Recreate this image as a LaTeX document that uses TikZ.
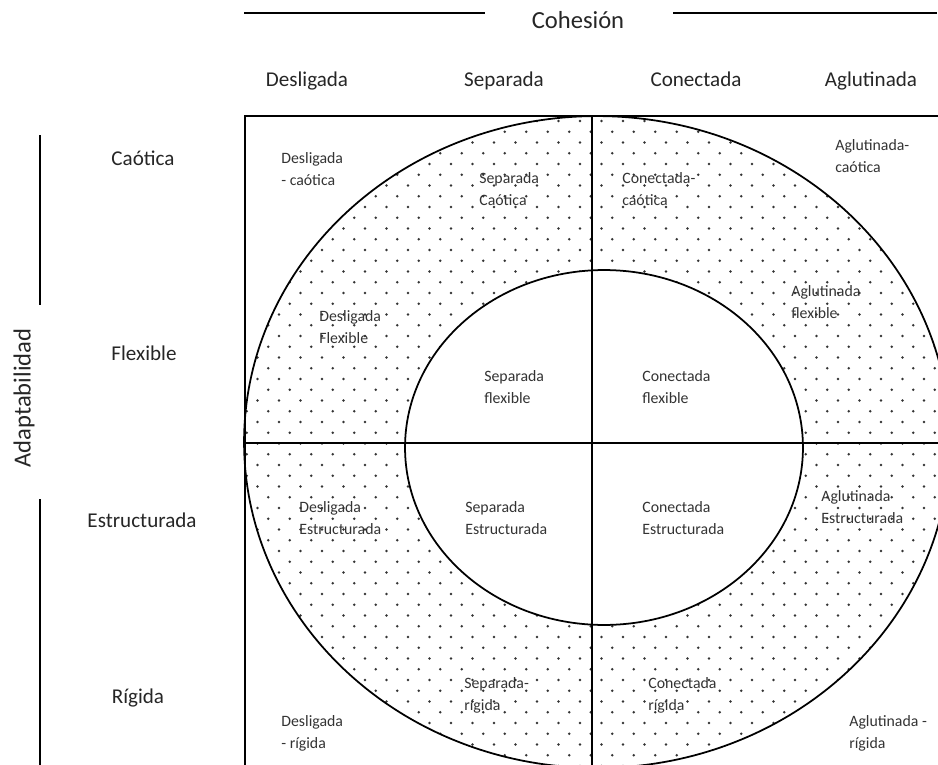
\documentclass[tikz,border=0pt]{standalone}
\usepackage{fontspec}
\setmainfont{Carlito}
\tikzset{
  axis title/.style={font=\fontsize{14}{16}\selectfont, text=black!85},
  head label/.style={font=\fontsize{12}{14}\selectfont, text=black!85, text height=1.5ex, text depth=0.45ex},
  cell label/.style={font=\fontsize{9}{12.5}\selectfont, align=left, anchor=west, inner sep=0pt, text=black!80},
  frame line/.style={line width=1pt},
  axis line/.style={line width=0.9pt},
}
\begin{document}
\begin{tikzpicture}[x=0.02cm, y=-0.02cm]
            \useasboundingbox (0,0) rectangle (938,765);
            \clip (0,0) rectangle (938,765);
            % dotted ring
            \begin{scope}
                \clip (597,442) ellipse [x radius=7.06cm, y radius=6.52cm];
                \foreach \r in {0,...,61} {
                    \foreach \c in {0,...,33} {
                        \fill[black!80] ({236+21.5*\c+10.75*mod(\r,2)},{121+10.75*\r}) circle (0.75pt);
                    }
                }
            \end{scope}
            \fill[white] (604,447.5) ellipse [x radius=3.98cm, y radius=3.55cm];
            % frame
            \coordinate (tl) at (245,116);
            \coordinate (tr) at (938,116);
            \coordinate (bl) at (245,765);
            \coordinate (mt) at (592,116);
            \coordinate (mb) at (592,765);
            \coordinate (ml) at (245,443);
            \coordinate (mr) at (938,443);
            \draw[frame line] (tr) -- (tl) -- (bl);
            \draw[frame line] (mt) -- (mb);
            \draw[frame line] (ml) -- (mr);
            \draw[frame line] (604,447.5) ellipse [x radius=3.98cm, y radius=3.55cm];
            \draw[frame line] (597,442) ellipse [x radius=7.06cm, y radius=6.52cm];
            % axis titles
            \node[axis title] (coh) at (578,20) {Cohesión};
            \node[axis title, rotate=90] (adapt) at (24,398) {Adaptabilidad};
            \coordinate (cohL1) at (244,13);
            \coordinate (cohL2) at (485,13);
            \coordinate (cohR1) at (673,13);
            \coordinate (cohR2) at (937,13);
            \coordinate (adaT1) at (40,135);
            \coordinate (adaT2) at (40,305);
            \coordinate (adaB1) at (40,499);
            \coordinate (adaB2) at (40,765);
            \draw[axis line] (cohL1) -- (cohL2);
            \draw[axis line] (cohR1) -- (cohR2);
            \draw[axis line] (adaT1) -- (adaT2);
            \draw[axis line] (adaB1) -- (adaB2);
            % column and row labels
            \node[head label] (hdes) at (307,82) {Desligada};
            \node[head label] (hsep) at (504,82) {Separada};
            \node[head label] (hcon) at (696,82) {Conectada};
            \node[head label] (hagl) at (871,82) {Aglutinada};
            \node[head label] (rcao) at (143,161) {Caótica};
            \node[head label] (rfle) at (144,356) {Flexible};
            \node[head label] (rest) at (142,523) {Estructurada};
            \node[head label] (rrig) at (138,699) {Rígida};
            % cell labels
            \node[cell label] (desCao) at (281,169) {Desligada\\- caótica};
            \node[cell label] (sepCao) at (479,189) {Separada\\Caótica};
            \node[cell label] (conCao) at (622,189) {Conectada-\\caótica};
            \node[cell label] (aglCao) at (835,156) {Aglutinada-\\caótica};
            \node[cell label] (desFle) at (319,327.5) {Desligada\\Flexible};
            \node[cell label] (aglFle) at (791,302.5) {Aglutinada\\flexible};
            \node[cell label] (sepFle) at (484,387) {Separada\\flexible};
            \node[cell label] (conFle) at (642,387) {Conectada\\flexible};
            \node[cell label] (desEst) at (299,518) {Desligada\\Estructurada};
            \node[cell label] (sepEst) at (465,518) {Separada\\Estructurada};
            \node[cell label] (conEst) at (642,518) {Conectada\\Estructurada};
            \node[cell label] (aglEst) at (821,507) {Aglutinada\\Estructurada};
            \node[cell label] (desRig) at (281,733) {Desligada\\- rígida};
            \node[cell label] (sepRig) at (464,695) {Separada-\\rígida};
            \node[cell label] (conRig) at (648,695) {Conectada\\rígida};
            \node[cell label] (aglRig) at (849,733) {Aglutinada -\\rígida};
\end{tikzpicture}
\end{document}
